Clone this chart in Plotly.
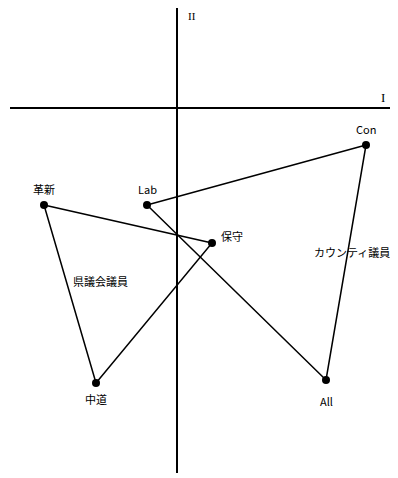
import plotly.graph_objects as go

# County councillors (UK)
county_labels = ["Con", "Lab", "All"]
county_x = [1.89, -0.30, 1.49]
county_y = [-0.37, -0.97, -2.72]

# Prefectural assembly members (Japan)
pref_labels = ["革新", "保守", "中道"]
pref_x = [-1.33, 0.35, -0.81]
pref_y = [-0.97, -1.35, -2.75]

group_names = ["カウンティ議員", "県議会議員"]
group_x = [1.75, -0.77]
group_y = [-1.44, -1.73]

axis_names = ["I", "II"]

FONT = "Noto Sans CJK JP"

# label offsets (pixels) relative to each point
county_shift = [(0, 16), (0, 16), (0, -21)]
pref_shift = [(0, 16), (20, 7), (0, -16)]

fig = go.Figure()

# closed loops
fig.add_trace(go.Scatter(
    x=county_x + county_x[:1], y=county_y + county_y[:1],
    mode="lines", line=dict(color="black", width=1.5), hoverinfo="skip"))
fig.add_trace(go.Scatter(
    x=pref_x + pref_x[:1], y=pref_y + pref_y[:1],
    mode="lines", line=dict(color="black", width=1.5), hoverinfo="skip"))

# points
fig.add_trace(go.Scatter(
    x=county_x + pref_x, y=county_y + pref_y, mode="markers",
    marker=dict(color="black", size=8), hoverinfo="skip"))

# point labels
for labels, xs, ys, shifts in [(county_labels, county_x, county_y, county_shift),
                               (pref_labels, pref_x, pref_y, pref_shift)]:
    for t, px, py, (dx, dy) in zip(labels, xs, ys, shifts):
        fig.add_annotation(x=px, y=py, text=t, showarrow=False,
                           xshift=dx, yshift=dy,
                           font=dict(family=FONT, size=11, color="black"))

# group labels
for name, gx, gy in zip(group_names, group_x, group_y):
    fig.add_annotation(x=gx, y=gy, text=name, showarrow=False,
                       font=dict(family=FONT, size=11, color="black"))

# axis names
fig.add_annotation(x=2.06, y=0.11, text=axis_names[0], showarrow=False,
                   font=dict(family="Liberation Serif", size=13, color="black"))
fig.add_annotation(x=0.15, y=1.0, yanchor="top", text=axis_names[1],
                   showarrow=False,
                   font=dict(family="Liberation Serif", size=11, color="black"))

# the page body adds an 8px margin; size the figure to fit the window
fig.update_layout(
    width=390, height=470,
    margin=dict(l=2, r=1, t=0, b=5, autoexpand=False),
    paper_bgcolor="white", plot_bgcolor="white",
    showlegend=False,
    xaxis=dict(range=[-1.67, 2.20], showgrid=False, showticklabels=False,
               ticks="", zeroline=True, zerolinecolor="black", zerolinewidth=1.5),
    yaxis=dict(range=[-3.65, 1.00], showgrid=False, showticklabels=False,
               ticks="", zeroline=True, zerolinecolor="black", zerolinewidth=1.5),
)

fig.write_html("out.html")
